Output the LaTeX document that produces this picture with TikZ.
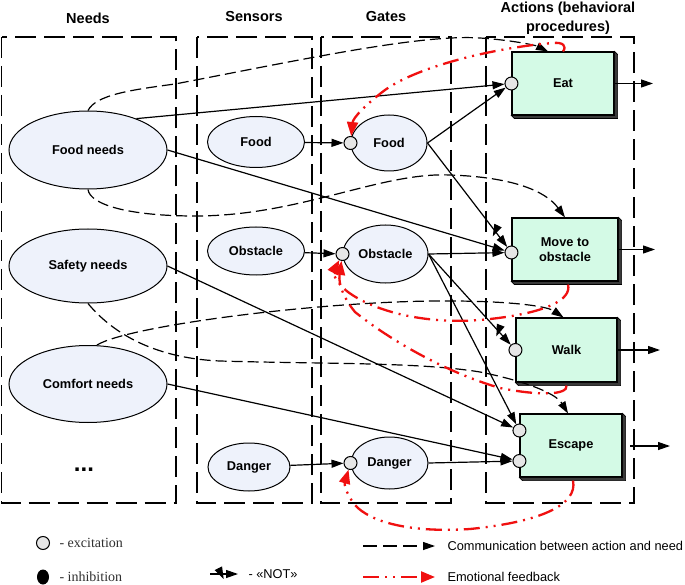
\documentclass[tikz,border=0pt]{standalone}
\usepackage{fontspec}
\setmainfont{Liberation Sans}
\newfontfamily\legserif{Liberation Serif}
\usetikzlibrary{shapes.geometric, arrows.meta, decorations.markings, calc}

\definecolor{ellfill}{HTML}{EEF2FB}
\definecolor{actfill}{HTML}{D4FAE6}
\definecolor{circfill}{HTML}{E6E6E6}
\definecolor{shadowgray}{HTML}{3A3A3A}
\definecolor{fbred}{HTML}{F01010}
\definecolor{legray}{HTML}{303030}

\begin{document}
\begin{tikzpicture}[x=1pt,y=-1pt,
  colbox/.style={draw, line width=1.6pt, dash pattern=on 21pt off 8pt},
  hdr/.style={font=\fontsize{14.5}{19}\selectfont\bfseries, align=center},
  ell/.style={ellipse, draw, line width=1pt, fill=ellfill, inner sep=0pt, font=\fontsize{12.8}{15}\selectfont\bfseries},
  act/.style={rectangle, draw, line width=1.1pt, fill=actfill, inner sep=0pt, align=center, font=\fontsize{12.8}{15}\selectfont\bfseries},
  exc/.style={circle, draw, line width=1pt, fill=circfill, minimum size=13pt, inner sep=0pt},
  arr/.style={line width=1.2pt, -{Triangle[length=12pt,width=8pt]}},
  comm/.style={line width=1.2pt, dash pattern=on 11pt off 5pt, -{Triangle[length=12pt,width=8pt]}},
  fb/.style={line width=2.3pt, draw=fbred, dash pattern=on 16pt off 6pt on 2pt off 6pt on 2pt off 6pt, -{Triangle[length=14pt,width=11pt,fill=fbred]}},
  notmark/.style={postaction={decorate, decoration={markings, mark=at position #1 with {\draw[line width=1.1pt, solid] (-2.5,-5) -- (2.5,5);}}}},
  legtext/.style={anchor=west, font=\fontsize{12.8}{15}\selectfont},
  legsertext/.style={anchor=west, text=legray, font=\legserif\fontsize{14}{16}\selectfont}
]
\useasboundingbox (0,0) rectangle (685,585);
\fill[white] (0,0) rectangle (685,585);

% headers
\node[hdr] (hN) at (88,18) {Needs};
\node[hdr] (hS) at (254,17) {Sensors};
\node[hdr] (hG) at (386,17) {Gates};
\node[hdr] (hA) at (568,18) {Actions (behavioral\\procedures)};

% column boxes
\draw[colbox] (1.5,37) rectangle (176,503);
\draw[colbox] (197,37) rectangle (312,503);
\draw[colbox] (321,37) rectangle (451,503);
\draw[colbox] (486,37) rectangle (634,503);

% needs
\node[ell, minimum width=158pt, minimum height=78pt] (fn) at (88,150) {Food needs};
\node[ell, minimum width=158pt, minimum height=74pt] (sn) at (88,266) {Safety needs};
\node[ell, minimum width=158pt, minimum height=77pt] (cn) at (88,384) {Comfort needs};
\node[font=\fontsize{24}{24}\selectfont\bfseries] (etc) at (84,470) {...};

% sensors
\node[ell, minimum width=97pt, minimum height=51pt] (sf) at (256,142) {Food};
\node[ell, minimum width=97pt, minimum height=48pt] (so) at (256,251) {Obstacle};
\node[ell, minimum width=82pt, minimum height=48pt] (sd) at (249,467) {Danger};

% gates
\node[ell, minimum width=76pt, minimum height=56pt] (gf) at (389,143) {Food};
\node[exc] (cgf) at (gf.west) {};
\node[ell, minimum width=85pt, minimum height=58pt] (go) at (385.5,254) {Obstacle};
\node[exc] (cgo) at (go.west) {};
\node[ell, minimum width=77pt, minimum height=52pt] (gd) at (389.5,463) {Danger};
\node[exc] (cgd) at (gd.west) {};

% actions
\node[act, minimum width=102pt, minimum height=63pt] (ae) at (563,83.5) {Eat};
\node[act, minimum width=106pt, minimum height=63pt] (am) at (565,249.5) {Move to\\obstacle};
\node[act, minimum width=101pt, minimum height=64pt] (aw) at (566.5,350) {Walk};
\node[act, minimum width=102pt, minimum height=63pt] (aes) at (571,445.5) {Escape};
\foreach \n in {ae,am,aw,aes} {
  \filldraw[fill=shadowgray, draw=black, line width=0.6pt] (\n.north east) -- ++(3,3) -- ($(\n.south east)+(3,3)$) -- ($(\n.south west)+(3,3)$) -- (\n.south west) -- (\n.south east) -- cycle;
}
\node[exc] (ce) at (ae.west) {};
\node[exc] (cm) at ($(am.west)+(0,3)$) {};
\node[exc] (cw) at (aw.west) {};
\node[exc] (cs1) at ($(aes.west)+(0,-15)$) {};
\node[exc] (cs2) at ($(aes.west)+(0,15.5)$) {};

% solid connections
\draw[arr] (sf) -- (cgf);
\draw[arr] (so) -- (cgo);
\draw[arr] (sd) -- (cgd);
\draw[arr] (fn.33) -- (ce);
\draw[arr] (fn.east) -- (cm);
\draw[arr] (gf.east) -- (ce);
\draw[arr, notmark=0.85] (gf.east) -- (cm);
\draw[arr] (go.east) -- (cm);
\draw[arr, notmark=0.85] (go.east) -- (cw);
\draw[arr] (go.east) -- (cs1);
\draw[arr] (sn.east) -- (cs1);
\draw[arr] (cn.east) -- (cs2);
\draw[arr] (gd.east) -- (cs2);

% outputs
\coordinate (oe) at (653,83.5);
\coordinate (om) at (655,249.5);
\coordinate (ow) at (660,350);
\coordinate (os0) at (630,446);
\coordinate (os) at (670,446);
\draw[arr] (ae.east) -- (oe);
\draw[arr] (am.east) -- (om);
\draw[arr] (aw.east) -- (ow);
\draw[arr] (os0) -- (os);

% communication between action and need
\draw[comm] (fn.north) .. controls (96,95) and (130,90) .. (175,84)
  .. controls (300,60) and (420,34) .. (480,38)
  .. controls (510,40) and (535,45) .. ([xshift=-15pt]ae.north);
\draw[comm] (fn.south) .. controls (90,205) and (130,216) .. (195,216)
  .. controls (300,216) and (380,172) .. (450,175)
  .. controls (510,177) and (545,190) .. (am.north);
\draw[comm] ([xshift=9pt]cn.north) .. controls (130,325) and (330,300) .. (450,301)
  .. controls (500,301) and (545,305) .. ([xshift=-3pt]aw.north);
\draw[comm] (sn.south) .. controls (110,330) and (150,358) .. (220,361)
  .. controls (320,364) and (420,362) .. (480,372)
  .. controls (520,380) and (555,392) .. ([xshift=-3pt]aes.north);

% emotional feedback
\draw[fb] (ae.north) .. controls (567,46) and (563,42) .. (553,43)
  .. controls (500,47) and (420,65) .. (385,90)
  .. controls (365,105) and (353,118) .. (cgf);
\draw[fb] ($(am.south)+(3,3)$) .. controls (572,300) and (545,313) .. (490,319)
  .. controls (430,326) and (375,312) .. (348,292)
  .. controls (335,282) and (333,272) .. (cgo);
\draw[fb] ($(aw.south)+(0,3)$) .. controls (568,395) and (540,396) .. (500,388)
  .. controls (445,372) and (390,340) .. (355,312)
  .. controls (345,300) and (338,285) .. (cgo);
\draw[fb] ($(aes.south)+(2,3)$) .. controls (578,505) and (540,522) .. (470,529)
  .. controls (410,533) and (370,522) .. (355,505)
  .. controls (347,495) and (344,485) .. (cgd);

% legend
\node[exc] (lx) at (43,543) {};
\node[legsertext] (lxt) at (56,543) {- excitation};
\node[ellipse, fill=black, minimum width=12pt, minimum height=15pt, inner sep=0pt] (li) at (43,577) {};
\node[legsertext] (lit) at (56,577) {- inhibition};
\coordinate (ln1) at (210,574);
\coordinate (ln2) at (238,574);
\draw[arr, notmark=0.4] (ln1) -- (ln2);
\node[legtext] (lnt) at (245,574) {- «NOT»};
\coordinate (lc1) at (363,546);
\coordinate (lc2) at (435,546);
\draw[comm, dash pattern=on 14pt off 6pt] (lc1) -- (lc2);
\node[legtext] (lct) at (444,546) {Communication between action and need};
\coordinate (lf1) at (363,577);
\coordinate (lf2) at (435,577);
\draw[fb] (lf1) -- (lf2);
\node[legtext] (lft) at (444,577) {Emotional feedback};
\end{tikzpicture}
\end{document}
